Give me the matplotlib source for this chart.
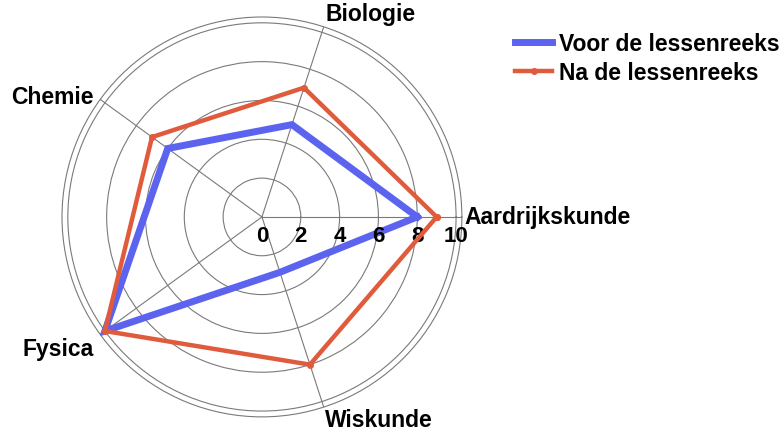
import numpy as np
import matplotlib.pyplot as plt

plt.rcParams['font.family'] = ['Liberation Sans', 'DejaVu Sans']

# data
categories = ['Aardrijkskunde', 'Biologie', 'Chemie', 'Fysica', 'Wiskunde']
voor = [8, 5, 6, 10, 3]
na = [9, 7, 7, 10, 8]
rticks = [0, 2, 4, 6, 8, 10]

n = len(categories)
angles = np.linspace(0, 2 * np.pi, n, endpoint=False)
ang = np.append(angles, angles[0])

fig = plt.figure(figsize=(7.81, 4.35), dpi=100)
ax = fig.add_axes([0.0794, 0.039, 0.512, 0.92], projection='polar')

ax.plot(ang, voor + voor[:1], color='#5b63ef', lw=5, label='Voor de lessenreeks',
        solid_joinstyle='miter', zorder=3)
ax.plot(ang, na + na[:1], color='#e05a3c', lw=3.2, marker='o', ms=4,
        label='Na de lessenreeks', solid_joinstyle='miter', zorder=4)

ax.set_ylim(0, 10.3)
ax.set_yticks(rticks)
ax.set_yticklabels([])
ax.set_xticks(angles)
ax.set_xticklabels([])
ax.grid(color='#7a7a7a', lw=0.8)
ax.spines['polar'].set_color('#7a7a7a')
ax.spines['polar'].set_linewidth(0.8)

# radial value labels under the first spoke
for v in rticks:
    ax.annotate(str(v), xy=(0, v), xytext=(0, -6), textcoords='offset points',
                ha='center', va='top', fontsize=16, fontweight='bold')

# category labels
lab = dict(
    Aardrijkskunde=dict(xytext=(2, 0), ha='left', va='center'),
    Biologie=dict(xytext=(1, 1), ha='left', va='bottom'),
    Chemie=dict(xytext=(-5, -6), ha='right', va='bottom'),
    Fysica=dict(xytext=(-5, -2), ha='right', va='top'),
    Wiskunde=dict(xytext=(1, -1), ha='left', va='top'),
)
for a, c in zip(angles, categories):
    o = lab[c]
    ax.annotate(c, xy=(a, 10.3), xytext=o['xytext'], textcoords='offset points',
                ha=o['ha'], va=o['va'], fontsize=16.5, fontweight='bold')

fig.legend(loc='upper left', bbox_to_anchor=(0.648, 0.945), frameon=False,
           prop={'weight': 'bold', 'size': 16.5}, handlelength=1.6,
           handletextpad=0.3, labelspacing=0.25, borderaxespad=0)

fig.savefig('out.png', dpi=100)
